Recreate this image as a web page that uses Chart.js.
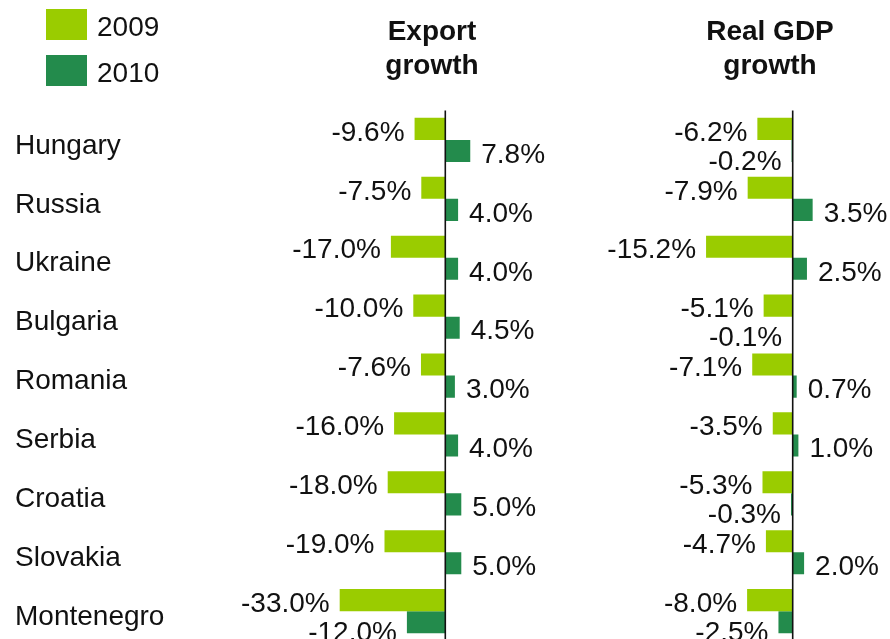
<!DOCTYPE html>
<html>
<head>
<meta charset="utf-8">
<script src="https://cdn.jsdelivr.net/npm/chart.js@4/dist/chart.umd.min.js"></script>
<style>
  html, body { margin: 0; padding: 0; background: #fff; overflow: hidden; }
  #wrap { width: 890px; height: 660px; }
</style>
</head>
<body>
<div id="wrap"><canvas id="c" width="890" height="660"></canvas></div>
<script>
// Growth rates (%) by country, 2009 vs 2010
const countries = ['Hungary', 'Russia', 'Ukraine', 'Bulgaria', 'Romania', 'Serbia', 'Croatia', 'Slovakia', 'Montenegro'];
const years = ['2009', '2010'];
const export2009 = [-9.6, -7.5, -17.0, -10.0, -7.6, -16.0, -18.0, -19.0, -33.0];
const export2010 = [7.8, 4.0, 4.0, 4.5, 3.0, 4.0, 5.0, 5.0, -12.0];
const gdp2009 = [-6.2, -7.9, -15.2, -5.1, -7.1, -3.5, -5.3, -4.7, -8.0];
const gdp2010 = [-0.2, 3.5, 2.5, -0.1, 0.7, 1.0, -0.3, 2.0, -2.5];
const panelTitles = [['Export', 'growth'], ['Real GDP', 'growth']];

const C2009 = '#9ACC00';
const C2010 = '#238B4C';
const FONT = '"Liberation Sans", Arial, sans-serif';
const FS = 28;

// Value labels, country names, panel titles, legend and zero lines
const overlay = {
  id: 'overlay',
  afterDatasetsDraw(chart) {
    const ctx = chart.ctx;
    const area = chart.chartArea;
    const ys = chart.scales.y;
    ctx.save();

    // zero lines of both panels
    ctx.strokeStyle = '#111';
    ctx.lineWidth = 1.6;
    ['x', 'x2'].forEach(id => {
      const px = chart.scales[id].getPixelForValue(0);
      ctx.beginPath();
      ctx.moveTo(px, area.top);
      ctx.lineTo(px, area.bottom);
      ctx.stroke();
    });

    // value labels
    ctx.font = FS + 'px ' + FONT;
    ctx.fillStyle = '#111';
    ctx.textBaseline = 'middle';
    chart.data.datasets.forEach((ds, i) => {
      const meta = chart.getDatasetMeta(i);
      meta.data.forEach((bar, j) => {
        const v = ds.data[j];
        const txt = v.toFixed(1) + '%';
        let dy = 4;
        if (ds.stack === '2010' && v < 0) dy = 11;
        if (v >= 0) {
          ctx.textAlign = 'left';
          ctx.fillText(txt, bar.x + 11, bar.y + dy);
        } else {
          ctx.textAlign = 'right';
          ctx.fillText(txt, bar.x - 10, bar.y + dy);
        }
      });
    });

    // country names
    ctx.textAlign = 'left';
    countries.forEach((name, j) => {
      ctx.fillText(name, 15, ys.getPixelForValue(j) + 6);
    });

    // panel titles
    ctx.font = 'bold ' + FS + 'px ' + FONT;
    ctx.textAlign = 'center';
    ctx.textBaseline = 'alphabetic';
    const centers = [432, 770];
    panelTitles.forEach((lines, k) => {
      lines.forEach((t, l) => ctx.fillText(t, centers[k], 40 + l * 34));
    });

    // legend
    ctx.font = FS + 'px ' + FONT;
    ctx.textAlign = 'left';
    ctx.textBaseline = 'middle';
    [C2009, C2010].forEach((col, k) => {
      const top = 9 + k * 46;
      ctx.fillStyle = col;
      ctx.fillRect(46, top, 41, 31);
      ctx.fillStyle = '#111';
      ctx.fillText(years[k], 97, top + 19);
    });
    ctx.restore();
  }
};

new Chart(document.getElementById('c'), {
  type: 'bar',
  data: {
    labels: countries,
    datasets: [
      { label: 'Export 2009', data: export2009, xAxisID: 'x', stack: '2009', backgroundColor: C2009 },
      { label: 'GDP 2009', data: gdp2009, xAxisID: 'x2', stack: '2009', backgroundColor: C2009 },
      { label: 'Export 2010', data: export2010, xAxisID: 'x', stack: '2010', backgroundColor: C2010 },
      { label: 'GDP 2010', data: gdp2010, xAxisID: 'x2', stack: '2010', backgroundColor: C2010 }
    ]
  },
  options: {
    indexAxis: 'y',
    responsive: false,
    animation: false,
    devicePixelRatio: 1,
    categoryPercentage: 0.75,
    barPercentage: 1.0,
    layout: { padding: { top: 110.5, bottom: 19.4, left: 250, right: 0 } },
    plugins: { legend: { display: false }, tooltip: { enabled: false } },
    scales: {
      y: { display: false },
      x: { display: false, stacked: false, min: -61.03, max: 138.97 },
      x2: { display: false, stacked: false, position: 'bottom', min: -95.21, max: 17.07 }
    }
  },
  plugins: [overlay]
});
</script>
</body>
</html>
